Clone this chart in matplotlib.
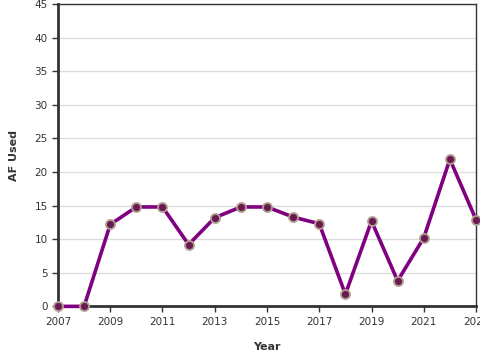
import matplotlib.pyplot as plt

# Data
years = [2007, 2008, 2009, 2010, 2011, 2012, 2013, 2014, 2015,
         2016, 2017, 2018, 2019, 2020, 2021, 2022, 2023]
af_used = [0, 0, 12.2, 14.8, 14.8, 9.2, 13.2, 14.8, 14.8,
           13.3, 12.3, 1.8, 12.7, 3.8, 10.2, 21.9, 12.9]
x_ticks = [2007, 2009, 2011, 2013, 2015, 2017, 2019, 2021, 2023]
y_ticks = [0, 5, 10, 15, 20, 25, 30, 35, 40, 45]

fig = plt.figure(figsize=(4.8, 3.6), dpi=100)
ax = fig.add_axes([0.1208, 0.149, 0.8709, 0.8395])

ax.plot(years, af_used, color="#800080", lw=2.6, zorder=3,
        marker="o", markersize=6.5, markerfacecolor="#6a1a50",
        markeredgecolor="#b0a090", markeredgewidth=1.3, clip_on=False)

ax.set_xlim(2007, 2023)
ax.set_ylim(0, 45)
ax.set_xticks(x_ticks)
ax.set_yticks(y_ticks)
ax.tick_params(labelsize=7.5, colors="#333333", length=4, width=1)

ax.grid(axis="y", color="#dddddd", lw=1)
ax.set_axisbelow(True)

for side in ["left", "bottom"]:
    ax.spines[side].set_linewidth(2)
    ax.spines[side].set_color("#333333")
for side in ["top", "right"]:
    ax.spines[side].set_linewidth(1)
    ax.spines[side].set_color("#333333")

ax.set_xlabel("Year", fontsize=8, fontweight="bold", color="#333333", labelpad=11)
ax.set_ylabel("AF Used", fontsize=8, fontweight="bold", color="#333333", labelpad=11)

fig.savefig("out.png", dpi=100)
